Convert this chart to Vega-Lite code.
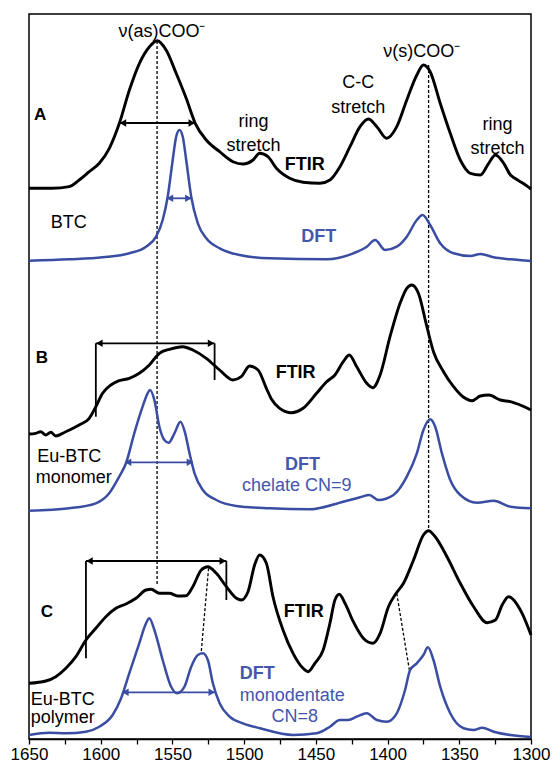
{
  "$schema": "https://vega.github.io/schema/vega-lite/v6.json",
  "width": 502,
  "height": 725,
  "autosize": {"type": "none"},
  "padding": {"left": 29, "top": 14, "right": 23, "bottom": 26},
  "background": "white",
  "config": {
    "view": {"stroke": "#000000", "strokeWidth": 1.5},
    "font": "Liberation Sans"
  },
  "datasets": {
    "spectra": [
      {"panel":"A","method":"FTIR","wn":1650,"y":550.7},{"panel":"A","method":"FTIR","wn":1633.7,"y":550.7},{"panel":"A","method":"FTIR","wn":1622,"y":552.3},{"panel":"A","method":"FTIR","wn":1615,"y":559},{"panel":"A","method":"FTIR","wn":1608,"y":567.3},{"panel":"A","method":"FTIR","wn":1601,"y":575.7},{"panel":"A","method":"FTIR","wn":1594,"y":590.7},{"panel":"A","method":"FTIR","wn":1587,"y":615.7},{"panel":"A","method":"FTIR","wn":1580,"y":649},{"panel":"A","method":"FTIR","wn":1573,"y":675.7},{"panel":"A","method":"FTIR","wn":1566,"y":692.3},{"panel":"A","method":"FTIR","wn":1560.7,"y":698.3},{"panel":"A","method":"FTIR","wn":1554.4,"y":689},{"panel":"A","method":"FTIR","wn":1547.4,"y":665.7},{"panel":"A","method":"FTIR","wn":1540.4,"y":640.7},{"panel":"A","method":"FTIR","wn":1534.1,"y":615.7},{"panel":"A","method":"FTIR","wn":1526.4,"y":599},{"panel":"A","method":"FTIR","wn":1517.1,"y":587.3},{"panel":"A","method":"FTIR","wn":1507.8,"y":577.3},{"panel":"A","method":"FTIR","wn":1500.8,"y":575},{"panel":"A","method":"FTIR","wn":1493.8,"y":579},{"panel":"A","method":"FTIR","wn":1489.2,"y":585.7},{"panel":"A","method":"FTIR","wn":1483.4,"y":582.3},{"panel":"A","method":"FTIR","wn":1477.5,"y":570.7},{"panel":"A","method":"FTIR","wn":1468.2,"y":560.7},{"panel":"A","method":"FTIR","wn":1458.9,"y":556.7},{"panel":"A","method":"FTIR","wn":1447.2,"y":555.7},{"panel":"A","method":"FTIR","wn":1440.2,"y":559},{"panel":"A","method":"FTIR","wn":1433.2,"y":572.3},{"panel":"A","method":"FTIR","wn":1426.2,"y":592.3},{"panel":"A","method":"FTIR","wn":1419.2,"y":612.3},{"panel":"A","method":"FTIR","wn":1413.4,"y":620},{"panel":"A","method":"FTIR","wn":1407.5,"y":612.3},{"panel":"A","method":"FTIR","wn":1400.6,"y":600.7},{"panel":"A","method":"FTIR","wn":1393.6,"y":612.3},{"panel":"A","method":"FTIR","wn":1386.6,"y":639},{"panel":"A","method":"FTIR","wn":1379.6,"y":664},{"panel":"A","method":"FTIR","wn":1375,"y":674},{"panel":"A","method":"FTIR","wn":1370.3,"y":667.3},{"panel":"A","method":"FTIR","wn":1363.3,"y":635.7},{"panel":"A","method":"FTIR","wn":1356.3,"y":605.7},{"panel":"A","method":"FTIR","wn":1349.3,"y":579},{"panel":"A","method":"FTIR","wn":1342.3,"y":565.7},{"panel":"A","method":"FTIR","wn":1335.3,"y":564},{"panel":"A","method":"FTIR","wn":1329.5,"y":575.7},{"panel":"A","method":"FTIR","wn":1324.8,"y":584},{"panel":"A","method":"FTIR","wn":1319,"y":575.7},{"panel":"A","method":"FTIR","wn":1314.3,"y":564},{"panel":"A","method":"FTIR","wn":1311.2,"y":560.7},{"panel":"A","method":"FTIR","wn":1303.8,"y":554},{"panel":"A","method":"FTIR","wn":1300,"y":550},
      {"panel":"A","method":"DFT","wn":1650,"y":478.3},{"panel":"A","method":"DFT","wn":1622,"y":479.7},{"panel":"A","method":"DFT","wn":1598.7,"y":481.7},{"panel":"A","method":"DFT","wn":1580,"y":485.7},{"panel":"A","method":"DFT","wn":1568.4,"y":492.3},{"panel":"A","method":"DFT","wn":1561.4,"y":502.3},{"panel":"A","method":"DFT","wn":1556.8,"y":519},{"panel":"A","method":"DFT","wn":1553.3,"y":542.3},{"panel":"A","method":"DFT","wn":1549.8,"y":579},{"panel":"A","method":"DFT","wn":1547.4,"y":602.3},{"panel":"A","method":"DFT","wn":1545.1,"y":609},{"panel":"A","method":"DFT","wn":1542.8,"y":602.3},{"panel":"A","method":"DFT","wn":1540.4,"y":579},{"panel":"A","method":"DFT","wn":1536.9,"y":542.3},{"panel":"A","method":"DFT","wn":1532.3,"y":515.7},{"panel":"A","method":"DFT","wn":1526.4,"y":500.7},{"panel":"A","method":"DFT","wn":1517.1,"y":490.7},{"panel":"A","method":"DFT","wn":1503.1,"y":484},{"panel":"A","method":"DFT","wn":1482.2,"y":480.7},{"panel":"A","method":"DFT","wn":1442.5,"y":479.7},{"panel":"A","method":"DFT","wn":1423.9,"y":485.7},{"panel":"A","method":"DFT","wn":1414.5,"y":492.3},{"panel":"A","method":"DFT","wn":1408.7,"y":499},{"panel":"A","method":"DFT","wn":1401.7,"y":489},{"panel":"A","method":"DFT","wn":1393.6,"y":492.3},{"panel":"A","method":"DFT","wn":1386.6,"y":502.3},{"panel":"A","method":"DFT","wn":1379.6,"y":519},{"panel":"A","method":"DFT","wn":1375.6,"y":524},{"panel":"A","method":"DFT","wn":1370.3,"y":514},{"panel":"A","method":"DFT","wn":1363.3,"y":495.7},{"panel":"A","method":"DFT","wn":1354,"y":485.7},{"panel":"A","method":"DFT","wn":1342.3,"y":483},{"panel":"A","method":"DFT","wn":1335.3,"y":485},{"panel":"A","method":"DFT","wn":1326,"y":481.7},{"panel":"A","method":"DFT","wn":1314.3,"y":479.7},{"panel":"A","method":"DFT","wn":1300,"y":478},
      {"panel":"B","method":"FTIR","wn":1650,"y":305},{"panel":"B","method":"FTIR","wn":1645.3,"y":305.7},{"panel":"B","method":"FTIR","wn":1641.8,"y":307.3},{"panel":"B","method":"FTIR","wn":1638.3,"y":304},{"panel":"B","method":"FTIR","wn":1634.8,"y":306.7},{"panel":"B","method":"FTIR","wn":1631.3,"y":303},{"panel":"B","method":"FTIR","wn":1624.3,"y":307.3},{"panel":"B","method":"FTIR","wn":1615,"y":314},{"panel":"B","method":"FTIR","wn":1608,"y":320.7},{"panel":"B","method":"FTIR","wn":1603.4,"y":332.3},{"panel":"B","method":"FTIR","wn":1598.7,"y":345.7},{"panel":"B","method":"FTIR","wn":1592.9,"y":354},{"panel":"B","method":"FTIR","wn":1587.1,"y":358.3},{"panel":"B","method":"FTIR","wn":1580.1,"y":360.7},{"panel":"B","method":"FTIR","wn":1573.1,"y":365.7},{"panel":"B","method":"FTIR","wn":1566.1,"y":374},{"panel":"B","method":"FTIR","wn":1559.1,"y":385.7},{"panel":"B","method":"FTIR","wn":1552.1,"y":389.7},{"panel":"B","method":"FTIR","wn":1542.8,"y":392.3},{"panel":"B","method":"FTIR","wn":1535.8,"y":389},{"panel":"B","method":"FTIR","wn":1526.4,"y":380.7},{"panel":"B","method":"FTIR","wn":1517.1,"y":369},{"panel":"B","method":"FTIR","wn":1507.8,"y":359},{"panel":"B","method":"FTIR","wn":1502,"y":362.3},{"panel":"B","method":"FTIR","wn":1496.2,"y":373},{"panel":"B","method":"FTIR","wn":1490.3,"y":369},{"panel":"B","method":"FTIR","wn":1484.5,"y":350.7},{"panel":"B","method":"FTIR","wn":1481,"y":340},{"panel":"B","method":"FTIR","wn":1475.2,"y":330.7},{"panel":"B","method":"FTIR","wn":1467,"y":326.3},{"panel":"B","method":"FTIR","wn":1458.9,"y":330.7},{"panel":"B","method":"FTIR","wn":1449.5,"y":345.7},{"panel":"B","method":"FTIR","wn":1442.5,"y":357.3},{"panel":"B","method":"FTIR","wn":1436.7,"y":364},{"panel":"B","method":"FTIR","wn":1430.9,"y":377.3},{"panel":"B","method":"FTIR","wn":1426.7,"y":384},{"panel":"B","method":"FTIR","wn":1421.5,"y":372.3},{"panel":"B","method":"FTIR","wn":1414.5,"y":355.7},{"panel":"B","method":"FTIR","wn":1410.3,"y":351.3},{"panel":"B","method":"FTIR","wn":1405.2,"y":364},{"panel":"B","method":"FTIR","wn":1398.3,"y":402.3},{"panel":"B","method":"FTIR","wn":1391.3,"y":435.7},{"panel":"B","method":"FTIR","wn":1386.6,"y":450.7},{"panel":"B","method":"FTIR","wn":1383.1,"y":454},{"panel":"B","method":"FTIR","wn":1378.5,"y":445.7},{"panel":"B","method":"FTIR","wn":1372.6,"y":412.3},{"panel":"B","method":"FTIR","wn":1368,"y":387.3},{"panel":"B","method":"FTIR","wn":1361,"y":367.3},{"panel":"B","method":"FTIR","wn":1354,"y":352.3},{"panel":"B","method":"FTIR","wn":1347,"y":341.7},{"panel":"B","method":"FTIR","wn":1341.1,"y":338.3},{"panel":"B","method":"FTIR","wn":1335.3,"y":343},{"panel":"B","method":"FTIR","wn":1329.5,"y":344},{"panel":"B","method":"FTIR","wn":1321.3,"y":339},{"panel":"B","method":"FTIR","wn":1314.3,"y":337.3},{"panel":"B","method":"FTIR","wn":1300,"y":329},
      {"panel":"B","method":"DFT","wn":1650,"y":228.3},{"panel":"B","method":"DFT","wn":1622,"y":230.7},{"panel":"B","method":"DFT","wn":1603.4,"y":235.7},{"panel":"B","method":"DFT","wn":1594.1,"y":245.7},{"panel":"B","method":"DFT","wn":1587.1,"y":262.3},{"panel":"B","method":"DFT","wn":1582.4,"y":275.7},{"panel":"B","method":"DFT","wn":1576.6,"y":305.7},{"panel":"B","method":"DFT","wn":1570.8,"y":332.3},{"panel":"B","method":"DFT","wn":1567.3,"y":345.7},{"panel":"B","method":"DFT","wn":1565.6,"y":349},{"panel":"B","method":"DFT","wn":1562.6,"y":339},{"panel":"B","method":"DFT","wn":1559.1,"y":312.3},{"panel":"B","method":"DFT","wn":1555.6,"y":299},{"panel":"B","method":"DFT","wn":1552.6,"y":296.3},{"panel":"B","method":"DFT","wn":1548.6,"y":305.7},{"panel":"B","method":"DFT","wn":1544.4,"y":317.3},{"panel":"B","method":"DFT","wn":1541.1,"y":305.7},{"panel":"B","method":"DFT","wn":1538.1,"y":285.7},{"panel":"B","method":"DFT","wn":1534.6,"y":265.7},{"panel":"B","method":"DFT","wn":1528.8,"y":249},{"panel":"B","method":"DFT","wn":1519.4,"y":239},{"panel":"B","method":"DFT","wn":1505.5,"y":233},{"panel":"B","method":"DFT","wn":1482.2,"y":230.7},{"panel":"B","method":"DFT","wn":1454.2,"y":229.7},{"panel":"B","method":"DFT","wn":1430.9,"y":237.3},{"panel":"B","method":"DFT","wn":1419.2,"y":241.7},{"panel":"B","method":"DFT","wn":1412.7,"y":244},{"panel":"B","method":"DFT","wn":1406.4,"y":239},{"panel":"B","method":"DFT","wn":1395.9,"y":244},{"panel":"B","method":"DFT","wn":1386.6,"y":262.3},{"panel":"B","method":"DFT","wn":1379.6,"y":285.7},{"panel":"B","method":"DFT","wn":1375,"y":309},{"panel":"B","method":"DFT","wn":1370.3,"y":319.7},{"panel":"B","method":"DFT","wn":1366.8,"y":312.3},{"panel":"B","method":"DFT","wn":1362.1,"y":285.7},{"panel":"B","method":"DFT","wn":1356.3,"y":259},{"panel":"B","method":"DFT","wn":1349.3,"y":244},{"panel":"B","method":"DFT","wn":1337.6,"y":236.3},{"panel":"B","method":"DFT","wn":1326,"y":238.3},{"panel":"B","method":"DFT","wn":1314.3,"y":232.3},{"panel":"B","method":"DFT","wn":1300,"y":230.7},
      {"panel":"C","method":"FTIR","wn":1650,"y":55.7},{"panel":"C","method":"FTIR","wn":1638.3,"y":58},{"panel":"C","method":"FTIR","wn":1631.3,"y":62.3},{"panel":"C","method":"FTIR","wn":1624.3,"y":70.7},{"panel":"C","method":"FTIR","wn":1617.3,"y":82.3},{"panel":"C","method":"FTIR","wn":1610.3,"y":99},{"panel":"C","method":"FTIR","wn":1603.4,"y":110.7},{"panel":"C","method":"FTIR","wn":1596.4,"y":122.3},{"panel":"C","method":"FTIR","wn":1589.4,"y":130.7},{"panel":"C","method":"FTIR","wn":1582.4,"y":135},{"panel":"C","method":"FTIR","wn":1575.4,"y":140.7},{"panel":"C","method":"FTIR","wn":1568.4,"y":149},{"panel":"C","method":"FTIR","wn":1564.9,"y":149.7},{"panel":"C","method":"FTIR","wn":1559.1,"y":145.7},{"panel":"C","method":"FTIR","wn":1552.1,"y":145.7},{"panel":"C","method":"FTIR","wn":1546.3,"y":143},{"panel":"C","method":"FTIR","wn":1540.4,"y":143.3},{"panel":"C","method":"FTIR","wn":1535.8,"y":152.3},{"panel":"C","method":"FTIR","wn":1529.9,"y":169},{"panel":"C","method":"FTIR","wn":1525.3,"y":172.3},{"panel":"C","method":"FTIR","wn":1519.4,"y":165.7},{"panel":"C","method":"FTIR","wn":1512.4,"y":152.3},{"panel":"C","method":"FTIR","wn":1505.4,"y":140.7},{"panel":"C","method":"FTIR","wn":1502,"y":139},{"panel":"C","method":"FTIR","wn":1497.3,"y":147.3},{"panel":"C","method":"FTIR","wn":1492.7,"y":174},{"panel":"C","method":"FTIR","wn":1489.2,"y":184},{"panel":"C","method":"FTIR","wn":1484.5,"y":175.7},{"panel":"C","method":"FTIR","wn":1479.9,"y":142.3},{"panel":"C","method":"FTIR","wn":1472.9,"y":109},{"panel":"C","method":"FTIR","wn":1465.9,"y":85.7},{"panel":"C","method":"FTIR","wn":1458.9,"y":70.7},{"panel":"C","method":"FTIR","wn":1455.4,"y":67.3},{"panel":"C","method":"FTIR","wn":1450.7,"y":75.7},{"panel":"C","method":"FTIR","wn":1444.9,"y":89},{"panel":"C","method":"FTIR","wn":1440.2,"y":115.7},{"panel":"C","method":"FTIR","wn":1436.7,"y":139},{"panel":"C","method":"FTIR","wn":1433.7,"y":144.7},{"panel":"C","method":"FTIR","wn":1429.7,"y":135.7},{"panel":"C","method":"FTIR","wn":1423.9,"y":117.3},{"panel":"C","method":"FTIR","wn":1416.9,"y":100.7},{"panel":"C","method":"FTIR","wn":1410.3,"y":95.7},{"panel":"C","method":"FTIR","wn":1405.2,"y":105.7},{"panel":"C","method":"FTIR","wn":1399.4,"y":132.3},{"panel":"C","method":"FTIR","wn":1394,"y":145.7},{"panel":"C","method":"FTIR","wn":1388.9,"y":155.7},{"panel":"C","method":"FTIR","wn":1381.9,"y":179},{"panel":"C","method":"FTIR","wn":1375,"y":204},{"panel":"C","method":"FTIR","wn":1371.5,"y":208.3},{"panel":"C","method":"FTIR","wn":1366.8,"y":202.3},{"panel":"C","method":"FTIR","wn":1358.6,"y":182.3},{"panel":"C","method":"FTIR","wn":1349.3,"y":155.7},{"panel":"C","method":"FTIR","wn":1340,"y":132.3},{"panel":"C","method":"FTIR","wn":1330.6,"y":116.3},{"panel":"C","method":"FTIR","wn":1324.8,"y":119},{"panel":"C","method":"FTIR","wn":1320.1,"y":134},{"panel":"C","method":"FTIR","wn":1315.7,"y":142.3},{"panel":"C","method":"FTIR","wn":1306.2,"y":125.7},{"panel":"C","method":"FTIR","wn":1300,"y":104},
      {"panel":"C","method":"DFT","wn":1650,"y":4},{"panel":"C","method":"DFT","wn":1636,"y":6.3},{"panel":"C","method":"DFT","wn":1624.3,"y":5.7},{"panel":"C","method":"DFT","wn":1610.3,"y":7.3},{"panel":"C","method":"DFT","wn":1601,"y":12.3},{"panel":"C","method":"DFT","wn":1591.7,"y":24},{"panel":"C","method":"DFT","wn":1586,"y":40},{"panel":"C","method":"DFT","wn":1580.1,"y":65.7},{"panel":"C","method":"DFT","wn":1573.1,"y":95.7},{"panel":"C","method":"DFT","wn":1568.4,"y":115.7},{"panel":"C","method":"DFT","wn":1566.1,"y":120.7},{"panel":"C","method":"DFT","wn":1562.6,"y":109},{"panel":"C","method":"DFT","wn":1556.8,"y":79},{"panel":"C","method":"DFT","wn":1550.9,"y":52.3},{"panel":"C","method":"DFT","wn":1546.7,"y":45.7},{"panel":"C","method":"DFT","wn":1541.6,"y":52.3},{"panel":"C","method":"DFT","wn":1536.9,"y":72.3},{"panel":"C","method":"DFT","wn":1532.3,"y":84},{"panel":"C","method":"DFT","wn":1528.8,"y":85.7},{"panel":"C","method":"DFT","wn":1525.3,"y":79},{"panel":"C","method":"DFT","wn":1521.8,"y":55.7},{"panel":"C","method":"DFT","wn":1517.1,"y":35.7},{"panel":"C","method":"DFT","wn":1510.1,"y":22.3},{"panel":"C","method":"DFT","wn":1500.8,"y":15.7},{"panel":"C","method":"DFT","wn":1488.9,"y":10.7},{"panel":"C","method":"DFT","wn":1465.9,"y":4},{"panel":"C","method":"DFT","wn":1449.5,"y":5.7},{"panel":"C","method":"DFT","wn":1440.2,"y":12.3},{"panel":"C","method":"DFT","wn":1433.2,"y":19},{"panel":"C","method":"DFT","wn":1427.4,"y":19},{"panel":"C","method":"DFT","wn":1421.5,"y":22.3},{"panel":"C","method":"DFT","wn":1414.5,"y":25.7},{"panel":"C","method":"DFT","wn":1407.5,"y":19},{"panel":"C","method":"DFT","wn":1400.6,"y":17.3},{"panel":"C","method":"DFT","wn":1393.6,"y":25.7},{"panel":"C","method":"DFT","wn":1387.8,"y":49},{"panel":"C","method":"DFT","wn":1384.3,"y":69},{"panel":"C","method":"DFT","wn":1379.6,"y":75.7},{"panel":"C","method":"DFT","wn":1375,"y":84},{"panel":"C","method":"DFT","wn":1371.9,"y":91.7},{"panel":"C","method":"DFT","wn":1368,"y":79},{"panel":"C","method":"DFT","wn":1363.3,"y":52.3},{"panel":"C","method":"DFT","wn":1356.3,"y":25.7},{"panel":"C","method":"DFT","wn":1347,"y":10.7},{"panel":"C","method":"DFT","wn":1340,"y":9},{"panel":"C","method":"DFT","wn":1334.1,"y":11.3},{"panel":"C","method":"DFT","wn":1326,"y":7.3},{"panel":"C","method":"DFT","wn":1314.3,"y":4},{"panel":"C","method":"DFT","wn":1300,"y":2}
    ],
    "guides": [
      {"wn":1560.7,"y":698,"wn2":1560.7,"y2":155},
      {"wn":1371.4,"y":674,"wn2":1371.4,"y2":209},
      {"wn":1524.8,"y":170.7,"wn2":1529.9,"y2":87.3},
      {"wn":1393.6,"y":145.7,"wn2":1384.8,"y2":69}
    ],
    "arrows": [
      {"panel":"A","method":"FTIR","wn":1587,"wn2":1534,"y":616},
      {"panel":"A","method":"DFT","wn":1553.7,"wn2":1536.9,"y":540.7},
      {"panel":"B","method":"FTIR","wn":1603.4,"wn2":1520.6,"y":395.7},
      {"panel":"B","method":"DFT","wn":1582.9,"wn2":1535.8,"y":276.7},
      {"panel":"C","method":"FTIR","wn":1610.3,"wn2":1512.4,"y":178},
      {"panel":"C","method":"DFT","wn":1584.8,"wn2":1520.6,"y":46.7}
    ],
    "heads": [
      {"method":"FTIR","dir":"left","wn":1584.5,"y":616},
      {"method":"FTIR","dir":"right","wn":1536.5,"y":616},
      {"method":"DFT","dir":"left","wn":1551.7,"y":540.7},
      {"method":"DFT","dir":"right","wn":1538.9,"y":540.7},
      {"method":"FTIR","dir":"left","wn":1600.9,"y":395.7},
      {"method":"FTIR","dir":"right","wn":1523.1,"y":395.7},
      {"method":"DFT","dir":"left","wn":1580.9,"y":276.7},
      {"method":"DFT","dir":"right","wn":1537.8,"y":276.7},
      {"method":"FTIR","dir":"left","wn":1607.8,"y":178},
      {"method":"FTIR","dir":"right","wn":1514.9,"y":178},
      {"method":"DFT","dir":"left","wn":1582.8,"y":46.7},
      {"method":"DFT","dir":"right","wn":1522.6,"y":46.7}
    ],
    "brackets": [
      {"wn":1603.4,"y":395.7,"y2":322.3},
      {"wn":1520.6,"y":395.7,"y2":359},
      {"wn":1610.3,"y":178,"y2":80.7},
      {"wn":1512.4,"y":178,"y2":139}
    ],
    "labels": [
      {"text":"ν(as)COO⁻","wn":1557.3,"y":702.3,"role":"band"},
      {"text":"ring","wn":1493.4,"y":611.7,"role":"band"},
      {"text":"stretch","wn":1493.4,"y":588,"role":"band"},
      {"text":"C-C","wn":1420.4,"y":650.7,"role":"band"},
      {"text":"stretch","wn":1420.4,"y":625.7,"role":"band"},
      {"text":"ν(s)COO⁻","wn":1376.1,"y":682.3,"role":"band"},
      {"text":"ring","wn":1323.4,"y":609,"role":"band"},
      {"text":"stretch","wn":1323.4,"y":585,"role":"band"},
      {"text":"A","wn":1646.5,"y":619,"role":"panel"},
      {"text":"B","wn":1645.3,"y":375.7,"role":"panel"},
      {"text":"C","wn":1641.8,"y":122.3,"role":"panel"},
      {"text":"BTC","wn":1634.8,"y":510.7,"role":"sample"},
      {"text":"Eu-BTC","wn":1644.2,"y":277.3,"role":"sample"},
      {"text":"monomer","wn":1645.3,"y":255.7,"role":"sample"},
      {"text":"Eu-BTC","wn":1648.8,"y":34,"role":"sample"},
      {"text":"polymer","wn":1648.8,"y":15.7,"role":"sample"},
      {"text":"FTIR","wn":1457.7,"y":569,"role":"ftir"},
      {"text":"FTIR","wn":1464.1,"y":360.7,"role":"ftir"},
      {"text":"FTIR","wn":1458.4,"y":122,"role":"ftir"},
      {"text":"DFT","wn":1460.2,"y":497.3,"role":"dft"},
      {"text":"DFT","wn":1471.5,"y":269,"role":"dft"},
      {"text":"DFT","wn":1503.1,"y":59.7,"role":"dft"},
      {"text":"chelate CN=9","wn":1463.3,"y":247.7,"role":"model"},
      {"text":"monodentate","wn":1466.4,"y":38,"role":"model"},
      {"text":"CN=8","wn":1464.7,"y":17.3,"role":"model"}
    ]
  },
  "encoding": {
    "x": {
      "field": "wn",
      "type": "quantitative",
      "scale": {"domain": [1300, 1650], "reverse": true, "nice": false, "zero": false},
      "axis": {
        "values": [1650, 1625, 1600, 1575, 1550, 1525, 1500, 1475, 1450, 1425, 1400, 1375, 1350, 1325, 1300],
        "format": "d",
        "labelExpr": "datum.value % 50 === 0 ? datum.label : ''",
        "labelFont": "Liberation Sans",
        "labelFontSize": 17,
        "labelColor": "#000000",
        "labelPadding": 2,
        "labelFlush": false,
        "labelBound": false,
        "labelOverlap": false,
        "tickColor": "#000000",
        "tickSize": 5,
        "tickWidth": 1.3,
        "domainColor": "#000000",
        "domainWidth": 1.5,
        "grid": false,
        "title": null
      }
    },
    "y": {"field": "y", "type": "quantitative", "scale": {"domain": [0, 725], "nice": false, "zero": false}, "axis": null}
  },
  "layer": [
    {
      "data": {"name": "guides"},
      "mark": {"type": "rule", "color": "#000000", "strokeWidth": 1.3, "strokeDash": [3, 2]},
      "encoding": {"x2": {"field": "wn2"}, "y2": {"field": "y2"}}
    },
    {
      "data": {"name": "spectra"},
      "mark": {"type": "line", "interpolate": "monotone"},
      "encoding": {
        "color": {"field": "method", "type": "nominal", "scale": {"domain": ["FTIR", "DFT"], "range": ["#000000", "#3A4DA3"]}, "legend": null},
        "strokeWidth": {"field": "method", "type": "nominal", "scale": {"domain": ["FTIR", "DFT"], "range": [2.9, 2.5]}, "legend": null},
        "detail": {"field": "panel"}
      }
    },
    {
      "data": {"name": "arrows"},
      "mark": {"type": "rule", "strokeWidth": 1.8},
      "encoding": {
        "x2": {"field": "wn2"},
        "color": {"field": "method", "type": "nominal", "scale": {"domain": ["FTIR", "DFT"], "range": ["#000000", "#3A4DA3"]}, "legend": null}
      }
    },
    {
      "data": {"name": "brackets"},
      "mark": {"type": "rule", "color": "#000000", "strokeWidth": 1.8},
      "encoding": {"y2": {"field": "y2"}}
    },
    {
      "data": {"name": "heads"},
      "mark": {"type": "point", "filled": true, "opacity": 1, "size": 55},
      "encoding": {
        "shape": {"field": "dir", "type": "nominal", "scale": {"domain": ["left", "right"], "range": ["triangle-left", "triangle-right"]}, "legend": null},
        "color": {"field": "method", "type": "nominal", "scale": {"domain": ["FTIR", "DFT"], "range": ["#000000", "#3A4DA3"]}, "legend": null}
      }
    },
    {
      "data": {"name": "labels"},
      "transform": [{"filter": "datum.role === 'band'"}],
      "mark": {"type": "text", "align": "center", "baseline": "alphabetic", "fontSize": 18, "color": "#000000", "font": "Liberation Sans"},
      "encoding": {"text": {"field": "text"}}
    },
    {
      "data": {"name": "labels"},
      "transform": [{"filter": "datum.role === 'panel'"}],
      "mark": {"type": "text", "align": "left", "baseline": "alphabetic", "fontSize": 17, "fontWeight": "bold", "color": "#000000", "font": "Liberation Sans"},
      "encoding": {"text": {"field": "text"}}
    },
    {
      "data": {"name": "labels"},
      "transform": [{"filter": "datum.role === 'sample'"}],
      "mark": {"type": "text", "align": "left", "baseline": "alphabetic", "fontSize": 18, "color": "#000000", "font": "Liberation Sans"},
      "encoding": {"text": {"field": "text"}}
    },
    {
      "data": {"name": "labels"},
      "transform": [{"filter": "datum.role === 'ftir'"}],
      "mark": {"type": "text", "align": "center", "baseline": "alphabetic", "fontSize": 18, "fontWeight": "bold", "color": "#000000", "font": "Liberation Sans"},
      "encoding": {"text": {"field": "text"}}
    },
    {
      "data": {"name": "labels"},
      "transform": [{"filter": "datum.role === 'dft'"}],
      "mark": {"type": "text", "align": "left", "baseline": "alphabetic", "fontSize": 18, "fontWeight": "bold", "color": "#4556AC", "font": "Liberation Sans"},
      "encoding": {"text": {"field": "text"}}
    },
    {
      "data": {"name": "labels"},
      "transform": [{"filter": "datum.role === 'model'"}],
      "mark": {"type": "text", "align": "center", "baseline": "alphabetic", "fontSize": 18, "color": "#4556AC", "font": "Liberation Sans"},
      "encoding": {"text": {"field": "text"}}
    }
  ]
}
